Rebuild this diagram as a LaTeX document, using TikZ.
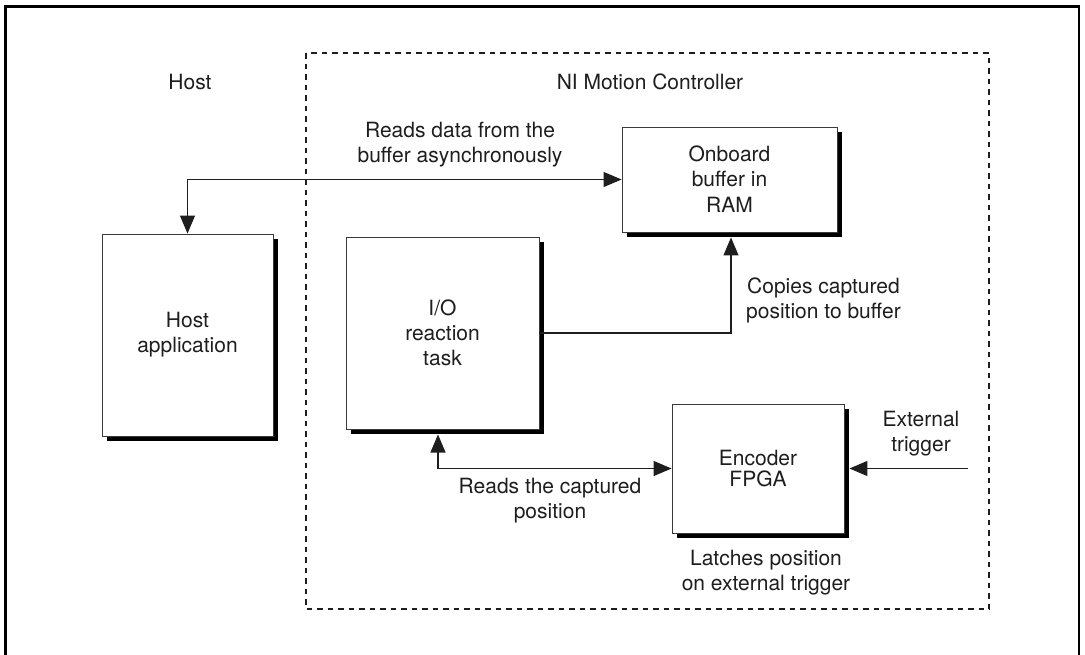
\documentclass[tikz,border=0pt]{standalone}
\usepackage{fontspec}
\setmainfont{TeX Gyre Heros}
\usetikzlibrary{arrows.meta,shadows,calc}
\definecolor{ink}{HTML}{1E1E1E}
\definecolor{edge}{HTML}{3A3A3A}
\tikzset{
  txt/.style={font=\fontsize{21pt}{25pt}\selectfont, text=ink, align=center, inner sep=0pt},
  blk/.style={txt, draw=edge, line width=0.9pt, fill=white,
    drop shadow={shadow xshift=4.5pt, shadow yshift=-4.5pt, opacity=1, fill=black}},
  conn/.style={draw=ink, line width=1.1pt, -{Triangle[length=18pt,width=15pt]}},
  bconn/.style={draw=ink, line width=1.1pt, {Triangle[length=18pt,width=15pt]}-{Triangle[length=18pt,width=15pt]}},
  frame/.style={draw=black, line width=2.6pt},
  region/.style={draw=ink, line width=1.1pt, dash pattern=on 5.5pt off 5pt}
}
\begin{document}
\begin{tikzpicture}[x=1pt,y=-1pt]
\useasboundingbox (0,0) rectangle (1085,654);
\clip (0,0) rectangle (1085,654);
\fill[white] (0,0) rectangle (1085,654);
% outer frame (bottom edge beyond the picture)
\draw[frame] (5.5,670) -- (5.5,6.5) -- (1079,6.5) -- (1079,670);
% NI Motion Controller region
\draw[region] (306,53) rectangle (989,609);

\node[txt] (hostlbl) at (190,82) {Host};
\node[txt] (nilbl) at (650,82) {NI Motion Controller};

\node[blk, minimum width=171pt, minimum height=202pt] (hostapp) at (187.5,335) {Host\\application};
\node[blk, minimum width=215pt, minimum height=105pt] (buffer) at (729.5,179.5) {Onboard\\buffer in\\[1pt]RAM};
\node[blk, minimum width=193pt, minimum height=192pt] (io) at (442.5,333) {I/O\\reaction\\task};
\node[blk, minimum width=172pt, minimum height=129pt, font=\fontsize{21pt}{21pt}\selectfont] (encoder) at (758,468.5) {Encoder\\FPGA};

\coordinate (iobot) at (438,434.5);
\coordinate (ext) at (968,468.5);

\draw[bconn] (hostapp.north) |- (buffer.west);
\draw[conn] (io.east) -| ($(buffer.south)+(1.5pt,-5pt)$);
\draw[bconn] (iobot) |- (encoder.west);
\draw[conn] (ext) -- ($(encoder.east)+(5pt,0pt)$);

\node[txt] (lblreads) at (460,145) {Reads data from the\\buffer asynchronously};
\node[txt] (lblcopies) at (823.5,300) {Copies captured\\position to buffer};
\node[txt] (lblcapt) at (550,501) {Reads the captured\\position};
\node[txt] (lbllatch) at (766,573) {Latches position\\on external trigger};
\node[txt] (lblext) at (921,434) {External\\trigger};
\end{tikzpicture}
\end{document}
